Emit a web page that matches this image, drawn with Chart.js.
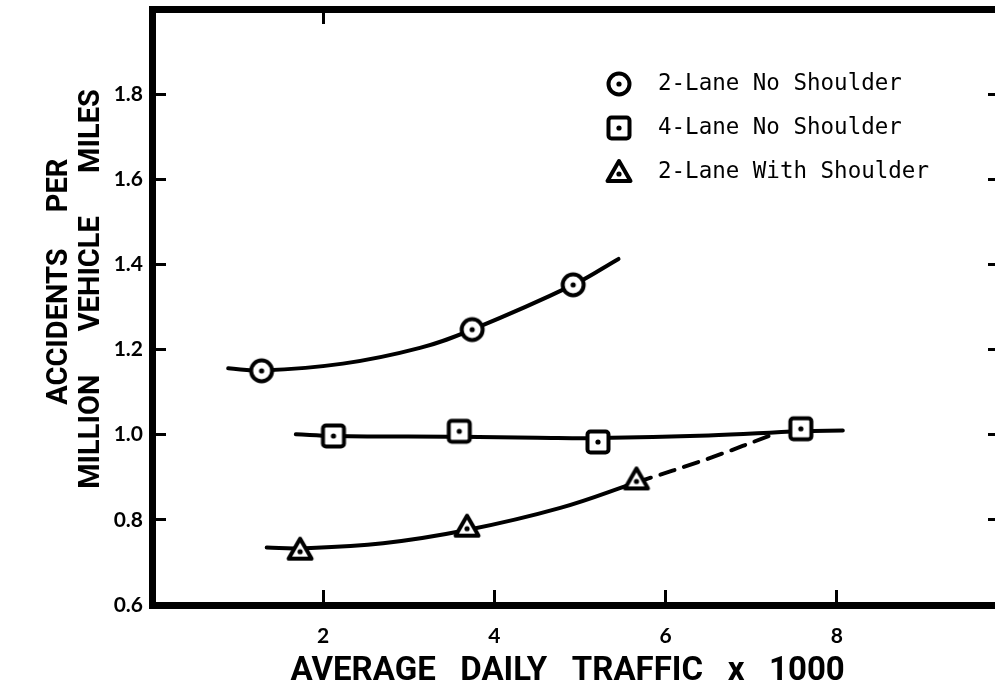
<!DOCTYPE html>
<html>
<head>
<meta charset="utf-8">
<script src="https://cdn.jsdelivr.net/npm/chart.js@4.4.1/dist/chart.umd.min.js"></script>
<style>
  html, body { margin: 0; padding: 0; background: #fff; overflow: hidden; }
  canvas { display: block; }
</style>
</head>
<body>
<canvas id="myChart" width="1012" height="692"></canvas>
<script>
'use strict';

// accidents per million vehicle miles vs. average daily traffic (x 1000)
var twoLaneNoShoulderX = [1.28, 3.74, 4.92];
var twoLaneNoShoulderY = [1.15, 1.247, 1.352];
var twoLaneNoShoulderFitX = [0.89, 1.28, 2.23, 3.13, 3.74, 4.92, 5.45];
var twoLaneNoShoulderFitY = [1.156, 1.151, 1.167, 1.204, 1.247, 1.352, 1.413];

var fourLaneNoShoulderX = [2.12, 3.59, 5.21, 7.58];
var fourLaneNoShoulderY = [0.997, 1.008, 0.983, 1.014];
var fourLaneNoShoulderFitX = [1.68, 2.12, 3.59, 4.5, 5.21, 6.5, 7.58, 8.07];
var fourLaneNoShoulderFitY = [1.001, 0.997, 0.995, 0.993, 0.992, 0.998, 1.008, 1.010];

var twoLaneShoulderX = [1.73, 3.68, 5.66];
var twoLaneShoulderY = [0.73, 0.784, 0.895];
var twoLaneShoulderFitX = [1.34, 1.73, 2.7, 3.68, 4.77, 5.66];
var twoLaneShoulderFitY = [0.735, 0.733, 0.745, 0.776, 0.828, 0.888];
// dashed extension
var twoLaneShoulderExtX = [5.66, 6.5, 7.3];
var twoLaneShoulderExtY = [0.888, 0.944, 1.004];

var seriesNames = ['2-Lane No Shoulder', '4-Lane No Shoulder', '2-Lane With Shoulder'];
var xTickLabels = [2, 4, 6, 8];
var yTickLabels = ['0.6', '0.8', '1.0', '1.2', '1.4', '1.6', '1.8'];

var titleFont = 'Roboto, "Liberation Sans", sans-serif';
var tickFont = 'Lato, "Open Sans", sans-serif';

function toPoints(xs, ys) {
  return xs.map(function (x, i) { return { x: x, y: ys[i] }; });
}

// open marker with a dot in the middle
function makeMarker(shape) {
  var size = 30;
  var c = document.createElement('canvas');
  c.width = size;
  c.height = size;
  var g = c.getContext('2d');
  var m = size / 2;
  g.lineWidth = 4;
  g.strokeStyle = '#000';
  g.fillStyle = '#fff';
  g.lineJoin = 'round';
  g.beginPath();
  if (shape === 'circle') {
    g.arc(m, m, 10.5, 0, Math.PI * 2);
  } else if (shape === 'square') {
    var r = 3, a = m - 10.5, b = m + 10.5;
    g.moveTo(a + r, a);
    g.arcTo(b, a, b, b, r);
    g.arcTo(b, b, a, b, r);
    g.arcTo(a, b, a, a, r);
    g.arcTo(a, a, b, a, r);
    g.closePath();
  } else {
    g.moveTo(m, m - 11);
    g.lineTo(m + 11.5, m + 9);
    g.lineTo(m - 11.5, m + 9);
    g.closePath();
  }
  g.fill();
  g.stroke();
  g.fillStyle = '#000';
  g.beginPath();
  g.arc(m, shape === 'triangle' ? m + 2 : m, 2.6, 0, Math.PI * 2);
  g.fill();
  return c;
}

var markers = [makeMarker('circle'), makeMarker('square'), makeMarker('triangle')];

function markerSet(label, xs, ys, style) {
  return {
    label: label,
    data: toPoints(xs, ys),
    showLine: false,
    pointStyle: style,
    pointRadius: 12,
    borderColor: '#000',
    backgroundColor: '#fff'
  };
}

function curveSet(xs, ys, dash) {
  return {
    label: '',
    data: toPoints(xs, ys),
    showLine: true,
    pointRadius: 0,
    borderColor: '#000',
    borderWidth: 4,
    borderDash: dash || [],
    borderCapStyle: 'round',
    tension: 0.4,
    fill: false
  };
}

// no extra padding around the frame, the plot box is sized by hand
function fixSize(prop, size) {
  return function (s) {
    s[prop] = size;
    s.paddingTop = 0;
    s.paddingBottom = 0;
    s.paddingLeft = 0;
    s.paddingRight = 0;
  };
}

// legend drawn inside the plot, upper right
var insideLegend = {
  id: 'insideLegend',
  afterDraw: function (chart) {
    var ctx = chart.ctx;
    var area = chart.chartArea;
    var x0 = area.left + 467;
    var y0 = area.top + 75;
    ctx.save();
    ctx.font = '22.5px "DejaVu Sans Mono", monospace';
    ctx.fillStyle = '#000';
    ctx.textBaseline = 'middle';
    ctx.textAlign = 'left';
    seriesNames.forEach(function (name, i) {
      var img = markers[i];
      var y = y0 + i * 44;
      ctx.drawImage(img, x0 - img.width / 2, y - img.height / 2);
      ctx.fillText(name, x0 + 39, y);
    });
    ctx.restore();
  }
};

var ctx = document.getElementById('myChart').getContext('2d');
var chart = new Chart(ctx, {
  type: 'scatter',
  data: {
    datasets: [
      markerSet(seriesNames[0], twoLaneNoShoulderX, twoLaneNoShoulderY, markers[0]),
      markerSet(seriesNames[1], fourLaneNoShoulderX, fourLaneNoShoulderY, markers[1]),
      markerSet(seriesNames[2], twoLaneShoulderX, twoLaneShoulderY, markers[2]),
      curveSet(twoLaneNoShoulderFitX, twoLaneNoShoulderFitY),
      curveSet(fourLaneNoShoulderFitX, fourLaneNoShoulderFitY),
      curveSet(twoLaneShoulderFitX, twoLaneShoulderFitY),
      curveSet(twoLaneShoulderExtX, twoLaneShoulderExtY, [15, 10])
    ]
  },
  options: {
    responsive: false,
    animation: false,
    layout: { padding: 0, autoPadding: false },
    plugins: {
      legend: { display: false },
      tooltip: { enabled: false }
    },
    scales: {
      x: {
        type: 'linear',
        position: 'bottom',
        min: 0,
        max: 10,
        ticks: {
          stepSize: 2,
          padding: 34,
          color: '#000',
          font: { family: tickFont, size: 21, weight: 'bold' },
          callback: function (v) { return xTickLabels.indexOf(v) >= 0 ? String(v) : ''; }
        },
        grid: { drawOnChartArea: false, tickLength: -15, color: '#000', lineWidth: 3 },
        border: { display: true, color: '#000', width: 7 },
        title: {
          display: true,
          text: 'AVERAGE   DAILY   TRAFFIC   x   1000   ',
          color: '#000',
          font: { family: titleFont, size: 33, weight: 'bold' },
          padding: { top: 0, bottom: 0 }
        },
        afterFit: fixSize('height', 87)
      },
      xTop: {
        type: 'linear',
        position: 'top',
        min: 0,
        max: 10,
        ticks: { display: false, stepSize: 2 },
        grid: {
          drawOnChartArea: false,
          tickLength: -15,
          lineWidth: 3,
          color: function (c) { return c.tick && c.tick.value === 2 ? '#000' : 'rgba(0,0,0,0)'; }
        },
        border: { display: true, color: '#000', width: 7 },
        afterFit: fixSize('height', 9)
      },
      y: {
        type: 'linear',
        position: 'left',
        min: 0.6,
        max: 2.0,
        ticks: {
          stepSize: 0.2,
          padding: 23,
          color: '#000',
          font: { family: tickFont, size: 21, weight: 'bold' },
          callback: function (v) {
            var s = Number(v).toFixed(1);
            return yTickLabels.indexOf(s) >= 0 ? s : '';
          }
        },
        grid: { drawOnChartArea: false, tickLength: -14, color: '#000', lineWidth: 3 },
        border: { display: true, color: '#000', width: 7 },
        title: {
          display: true,
          text: ['       ACCIDENTS     PER', '     MILLION      VEHICLE      MILES'],
          color: '#000',
          font: { family: titleFont, size: 29, weight: 'bold', lineHeight: 1.1 },
          padding: { top: 44, bottom: 0 }
        },
        afterFit: fixSize('width', 152)
      },
      yRight: {
        type: 'linear',
        position: 'right',
        min: 0.6,
        max: 2.0,
        ticks: { display: false, stepSize: 0.2 },
        grid: { drawOnChartArea: false, tickLength: -20, color: '#000', lineWidth: 3 },
        border: { display: true, color: '#000', width: 7 },
        afterFit: fixSize('width', 4)
      }
    }
  },
  plugins: [insideLegend]
});
</script>
</body>
</html>
